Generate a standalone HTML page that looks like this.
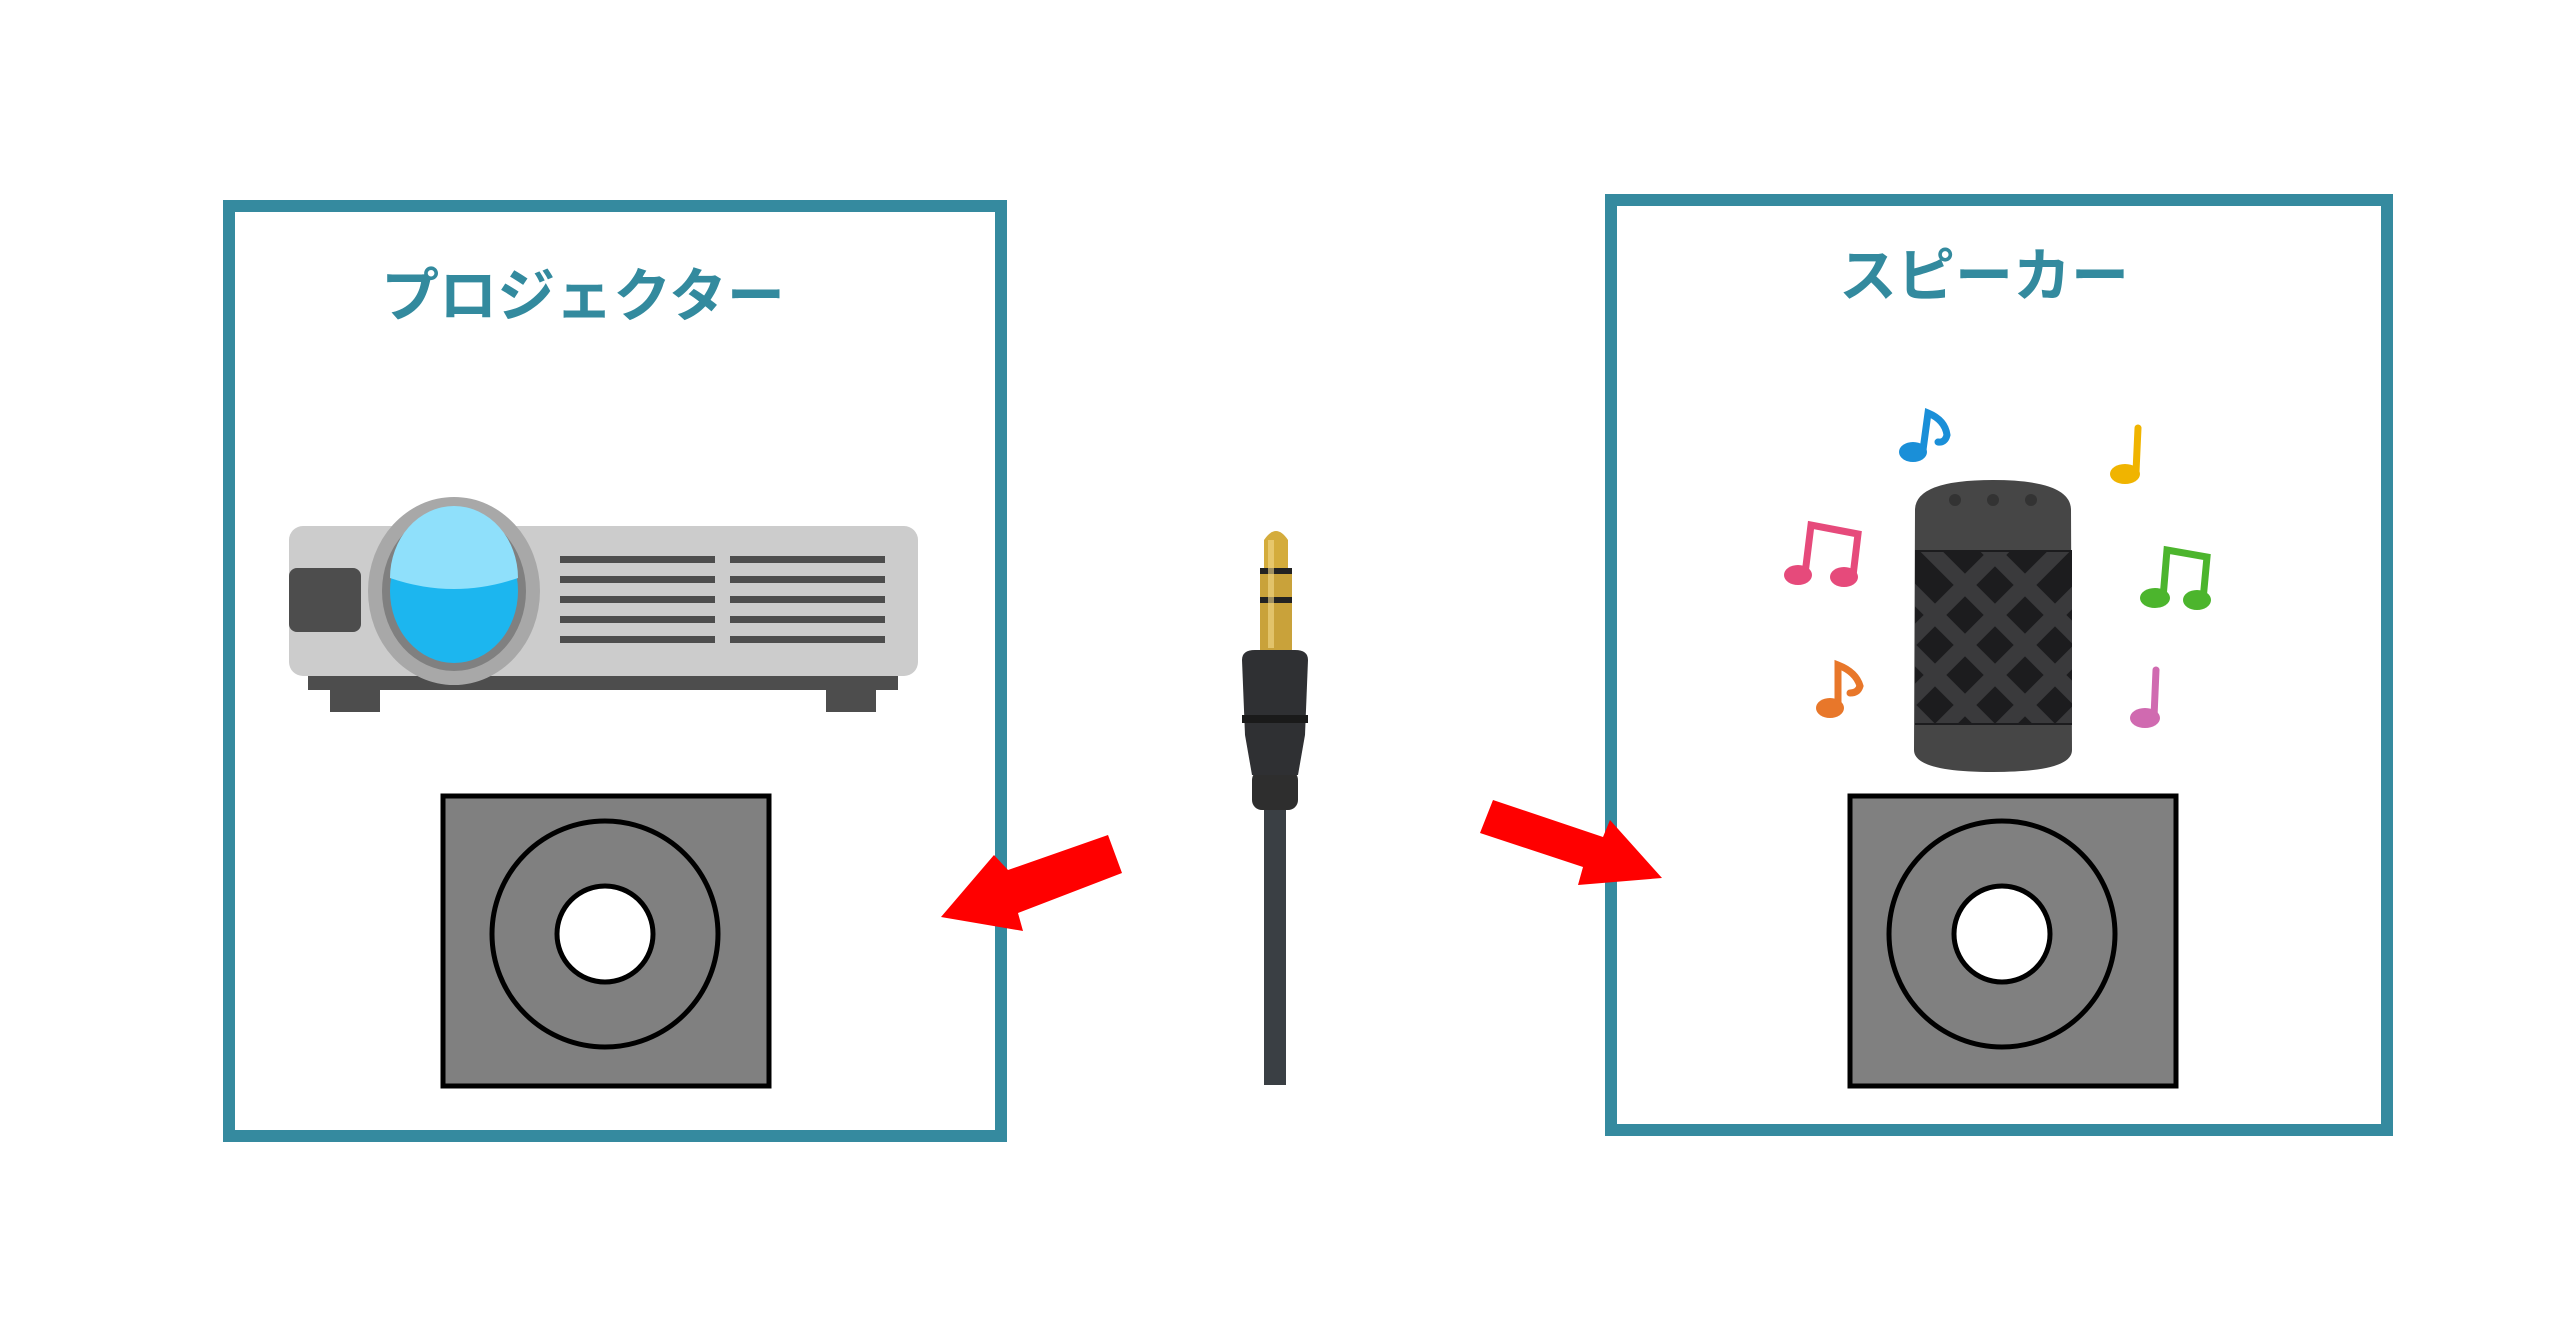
<!DOCTYPE html>
<html><head><meta charset="utf-8"><style>
html,body{margin:0;padding:0;background:#fff;}
svg{display:block}
text{font-family:"Liberation Sans","Noto Sans CJK JP",sans-serif;font-weight:bold;fill:#338a9e}
</style></head><body>
<svg width="2560" height="1328" viewBox="0 0 2560 1328" xmlns="http://www.w3.org/2000/svg">
<rect width="2560" height="1328" fill="#fff"/>
<!-- boxes -->
<rect x="229" y="206" width="772" height="930" fill="none" stroke="#358a9f" stroke-width="12"/>
<rect x="1611" y="200" width="776" height="930" fill="none" stroke="#358a9f" stroke-width="12"/>
<text x="583" y="316" font-size="58" text-anchor="middle">プロジェクター</text>
<text x="1984" y="296" font-size="58" text-anchor="middle">スピーカー</text>
<!-- projector -->
<rect x="330" y="676" width="50" height="36" fill="#4d4d4d"/>
<rect x="826" y="676" width="50" height="36" fill="#4d4d4d"/>
<rect x="308" y="662" width="590" height="28" fill="#4d4d4d"/>
<rect x="289" y="526" width="629" height="150" rx="14" fill="#cccccc"/>
<rect x="289" y="568" width="72" height="64" rx="8" fill="#4d4d4d"/>
<g fill="#4d4d4d">
<rect x="560" y="556" width="155" height="7"/><rect x="730" y="556" width="155" height="7"/>
<rect x="560" y="576" width="155" height="7"/><rect x="730" y="576" width="155" height="7"/>
<rect x="560" y="596" width="155" height="7"/><rect x="730" y="596" width="155" height="7"/>
<rect x="560" y="616" width="155" height="7"/><rect x="730" y="616" width="155" height="7"/>
<rect x="560" y="636" width="155" height="7"/><rect x="730" y="636" width="155" height="7"/>
</g>
<ellipse cx="454" cy="591" rx="86" ry="94" fill="#a8a8a8"/>
<ellipse cx="454" cy="591" rx="72" ry="80" fill="#808080"/>
<ellipse cx="454" cy="591" rx="64" ry="72" fill="#1cb6ef"/>
<path d="M390 578 A64 72 0 0 1 518 578 Q454 600 390 578Z" fill="#8fe0fb"/>
<!-- jacks -->
<rect x="443" y="796" width="326" height="290" fill="#808080" stroke="#000" stroke-width="5"/>
<circle cx="605" cy="934" r="113" fill="none" stroke="#000" stroke-width="5"/>
<circle cx="605" cy="934" r="48" fill="#fff" stroke="#000" stroke-width="5"/>
<rect x="1850" y="796" width="326" height="290" fill="#808080" stroke="#000" stroke-width="5"/>
<circle cx="2002" cy="934" r="113" fill="none" stroke="#000" stroke-width="5"/>
<circle cx="2002" cy="934" r="48" fill="#fff" stroke="#000" stroke-width="5"/>
<!-- arrows -->
<polygon points="1108,835 1122,873 1018,913 1023,931 941,917 994,855 1008,870" fill="#f00"/>
<polygon points="1493,800 1603,837 1610,820 1662,878 1578,885 1583,867 1480,833" fill="#f00"/>
<!-- audio plug -->
<rect x="1264" y="800" width="22" height="285" fill="#3a3f44"/>
<rect x="1252" y="770" width="46" height="40" rx="10" fill="#2e2e2e"/>
<path d="M1242 660 Q1242 650 1255 650 L1295 650 Q1308 650 1308 660 L1305 735 L1298 775 L1252 775 L1245 735Z" fill="#2f3033"/>
<rect x="1242" y="715" width="66" height="8" fill="#1a1a1a"/>
<path d="M1260 650 L1260 568 L1292 568 L1292 650Z" fill="#c9a23a"/>
<path d="M1264 568 L1264 540 Q1276 522 1288 540 L1288 568Z" fill="#d4ac3c"/>
<rect x="1260" y="568" width="32" height="6" fill="#222"/>
<rect x="1260" y="597" width="32" height="6" fill="#222"/>
<rect x="1268" y="540" width="6" height="108" fill="#f3d88a" opacity=".6"/>
<!-- speaker -->
<path d="M1915 510 Q1915 480 1993 480 Q2071 480 2071 510 L2072 750 Q2072 772 1993 772 Q1914 772 1914 750Z" fill="#464646"/>
<rect x="1915" y="550" width="157" height="175" fill="#1c1c1e"/>
<g stroke="#3a3a3c" stroke-width="16" clip-path="url(#c)">
<clipPath id="c"><rect x="1915" y="552" width="157" height="171"/></clipPath>
<path d="M1880 560 L2100 780 M1880 500 L2100 720 M1880 620 L2100 840 M1880 440 L2100 660 M1880 680 L2100 900 M2110 560 L1890 780 M2110 500 L1890 720 M2110 620 L1890 840 M2110 440 L1890 660 M2110 680 L1890 900" />
</g>
<circle cx="1955" cy="500" r="6" fill="#333"/><circle cx="1993" cy="500" r="6" fill="#333"/><circle cx="2031" cy="500" r="6" fill="#333"/>
<!-- notes -->
<g stroke-width="7" fill="none" stroke-linecap="round">
<path d="M1923 450 L1928 413 Q1945 420 1947 435 Q1945 443 1938 442" stroke="#1a8fd8"/>
<path d="M2138 428 L2136 472" stroke="#f0b400"/>
<path d="M1805 574 L1811 525 L1858 534 L1853 576" stroke="#e64a7b"/>
<path d="M2163 598 L2167 550 L2207 557 L2203 600" stroke="#4cb52d"/>
<path d="M1838 705 L1838 665 Q1856 672 1860 686 Q1858 693 1850 693" stroke="#e8772a"/>
<path d="M2156 670 L2154 717" stroke="#d06ab0"/>
</g>
<ellipse cx="1913" cy="452" rx="14" ry="10" fill="#1a8fd8"/>
<ellipse cx="2125" cy="474" rx="15" ry="10" fill="#f0b400"/>
<ellipse cx="1798" cy="575" rx="14" ry="10" fill="#e64a7b"/>
<ellipse cx="1844" cy="577" rx="14" ry="10" fill="#e64a7b"/>
<ellipse cx="2155" cy="598" rx="15" ry="10" fill="#4cb52d"/>
<ellipse cx="2197" cy="600" rx="14" ry="10" fill="#4cb52d"/>
<ellipse cx="1830" cy="708" rx="14" ry="10" fill="#e8772a"/>
<ellipse cx="2145" cy="718" rx="15" ry="10" fill="#d06ab0"/>
</svg>
</body></html>
